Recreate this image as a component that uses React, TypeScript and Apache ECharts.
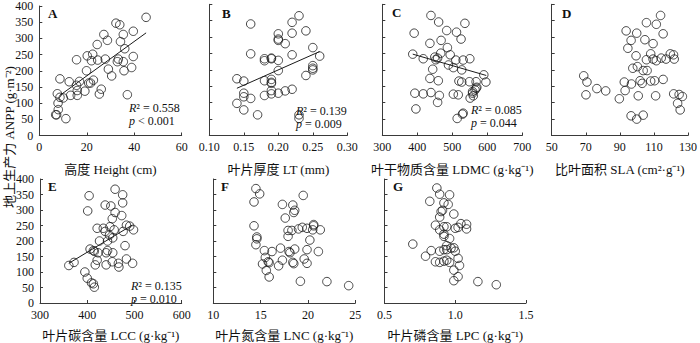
import React, { useEffect, useRef } from "react";
import * as echarts from "echarts";

// ---------- data ----------
const heightX = [45, 32.3, 33.9, 39.6, 27.2, 35.4, 28.7, 24.4, 34.2, 36, 39.6, 20.2, 22.5, 15.7, 22, 24.6, 27.8, 33.3, 32.9, 35.4, 29.1, 35.7, 38.9, 19.9, 8.7, 12.6, 16.9, 22.8, 20.8, 21.6, 30.5, 15.7, 7.6, 8.7, 10.1, 13.2, 16, 16, 19.2, 26.1, 25.3, 37.1, 7.9, 8, 6.9, 7.3, 11.2];
const heightY = [365, 347, 342, 322, 312, 312, 294, 281, 290, 268, 244, 246, 251, 234, 231, 233, 236, 236, 228, 228, 205, 200, 210, 200, 175, 166, 167, 171, 162, 162, 184, 155, 129, 118, 116, 124, 124, 139, 137, 143, 128, 126, 100, 80, 64, 64, 52];
const heightFit = [[8.7, 124], [45, 317]];

const ltX = [0.23, 0.22, 0.16, 0.24, 0.2, 0.22, 0.2, 0.2, 0.21, 0.25, 0.16, 0.18, 0.18, 0.19, 0.19, 0.2, 0.22, 0.26, 0.25, 0.25, 0.25, 0.2, 0.24, 0.14, 0.15, 0.18, 0.19, 0.19, 0.19, 0.22, 0.21, 0.2, 0.19, 0.19, 0.18, 0.15, 0.15, 0.16, 0.14, 0.15, 0.17, 0.23, 0.23];
const ltY = [365, 345, 340, 319, 310, 312, 294, 290, 280, 268, 249, 234, 228, 236, 234, 229, 246, 242, 213, 205, 200, 198, 183, 173, 166, 167, 171, 162, 159, 141, 136, 129, 137, 127, 122, 129, 118, 113, 98, 78, 63, 63, 52];
const ltFit = [[0.14, 144], [0.26, 256]];

const ldmcX = [439, 461, 536, 391, 484, 512, 525, 436, 468, 486, 467, 494, 387, 417, 450, 458, 453, 510, 531, 550, 489, 503, 444, 527, 590, 596, 519, 527, 549, 568, 436, 460, 568, 565, 558, 558, 570, 551, 560, 393, 417, 439, 463, 503, 517, 458, 396, 529, 531, 514];
const ldmcY = [366, 346, 342, 312, 320, 315, 294, 281, 290, 268, 251, 246, 248, 234, 239, 236, 231, 230, 230, 234, 215, 207, 202, 200, 185, 163, 166, 163, 164, 164, 174, 167, 144, 139, 134, 129, 147, 114, 121, 129, 127, 131, 122, 126, 124, 101, 81, 65, 68, 52];
const ldmcFit = [[387, 248], [597, 183]];

const slaX = [113.9, 105.6, 111.4, 93.7, 99.9, 115.4, 96.6, 104.7, 109.5, 94.7, 99.5, 108.1, 105.6, 109.5, 111.4, 114.3, 117.1, 119.6, 121.5, 121.9, 97.6, 100.3, 103.7, 106, 68.8, 70.7, 76.5, 81.7, 70.1, 92.6, 93.1, 96.8, 101.9, 103.1, 108.1, 110.4, 115.4, 89.7, 100.8, 111, 121.6, 124.8, 126.7, 123.9, 125.4, 96.6, 103.7, 99.9];
const slaY = [366, 344, 339, 319, 312, 310, 290, 292, 280, 266, 243, 249, 231, 233, 228, 236, 233, 249, 246, 233, 205, 210, 198, 198, 182, 163, 143, 136, 124, 163, 137, 157, 167, 159, 166, 167, 171, 112, 121, 121, 127, 125, 119, 98, 78, 60, 62, 50];

const lccX = [459, 475, 404, 475, 438, 450, 401, 459, 473, 453, 483, 490, 498, 448, 421, 434, 457, 476, 438, 447, 454, 443, 426, 480, 406, 413, 415, 443, 423, 440, 454, 361, 372, 421, 417, 440, 453, 466, 467, 483, 496, 395, 400, 409, 413, 415];
const lccY = [367, 349, 346, 323, 316, 313, 297, 292, 282, 272, 251, 248, 236, 246, 241, 241, 236, 231, 231, 219, 210, 200, 200, 185, 174, 169, 167, 169, 162, 162, 162, 121, 131, 138, 123, 123, 133, 128, 116, 142, 128, 100, 80, 65, 62, 51];
const lccFit = [[361, 128], [496, 252]];

const lncX = [14.5, 14.9, 14.3, 19.5, 17.3, 18.4, 18.6, 18.5, 17.6, 14.3, 14.6, 14.6, 14.5, 17.9, 18.3, 19, 19.4, 19.9, 20.5, 20.6, 20.6, 21.3, 17.9, 20.2, 17.1, 18.6, 19.9, 18, 18.1, 21.1, 15.4, 16.2, 15.5, 15.8, 15.9, 15.2, 16.9, 17.3, 18.4, 18.5, 19.6, 19.9, 15.6, 15.9, 19.2, 22, 24.3];
const lncY = [369, 352, 326, 347, 318, 316, 299, 292, 274, 249, 213, 207, 188, 234, 234, 239, 244, 241, 236, 253, 249, 236, 215, 203, 177, 174, 172, 166, 162, 166, 169, 166, 147, 133, 130, 126, 120, 138, 131, 127, 142, 128, 105, 84, 70, 69, 56];

const lpcX = [0.87, 0.89, 0.96, 0.82, 0.92, 0.95, 0.91, 0.9, 0.99, 0.89, 1.04, 1.08, 0.86, 0.92, 0.94, 1.0, 1.02, 1.08, 0.89, 0.92, 0.92, 0.96, 0.7, 0.94, 0.97, 0.99, 0.94, 0.89, 0.92, 0.83, 1.0, 0.79, 1.02, 0.86, 0.89, 0.92, 0.94, 0.96, 1.03, 0.99, 1.02, 0.99, 1.16, 1.29];
const lpcY = [371, 351, 349, 328, 323, 318, 299, 295, 287, 277, 256, 254, 251, 246, 246, 241, 244, 239, 236, 222, 215, 208, 190, 185, 177, 178, 172, 167, 172, 169, 167, 151, 144, 133, 131, 135, 138, 131, 121, 106, 85, 72, 69, 59];

const yTitle = "地上生产力 ANPP (g·m⁻²)";

// ---------- layout / styling ----------
const FONT = "'Liberation Serif', 'Times New Roman', 'Noto Sans CJK SC', serif";
const TOP_T = 4.3, TOP_H = 131.2;
const BOT_T = 179, BOT_H = 130;

type Panel = {
  letter: string; xs: number[]; ys: number[]; fit?: number[][];
  left: number; width: number; top: number; height: number;
  xmin: number; xmax: number; xint: number; dec: number; name: string; showY: boolean;
  stats?: { r: string; p: string; x: number; y: number; lh: number };
  letterPos: [number, number];
};

const panels: Panel[] = [
  { letter: "A", xs: heightX, ys: heightY, fit: heightFit, left: 39.3, width: 142.4, top: TOP_T, height: TOP_H, xmin: 0, xmax: 60, xint: 20, dec: 0, name: "高度 Height (cm)", showY: true, stats: { r: "0.558", p: "< 0.001", x: 129, y: 114.5, lh: 12.5 }, letterPos: [48, 13.5] },
  { letter: "B", xs: ltX, ys: ltY, fit: ltFit, left: 209.3, width: 138, top: TOP_T, height: TOP_H, xmin: 0.1, xmax: 0.3, xint: 0.05, dec: 2, name: "叶片厚度 LT (mm)", showY: false, stats: { r: "0.139", p: "= 0.009", x: 296, y: 117.5, lh: 12.8 }, letterPos: [222, 13.5] },
  { letter: "C", xs: ldmcX, ys: ldmcY, fit: ldmcFit, left: 382.3, width: 140, top: TOP_T, height: TOP_H, xmin: 300, xmax: 700, xint: 100, dec: 0, name: "叶干物质含量 LDMC (g·kg⁻¹)", showY: false, stats: { r: "0.085", p: "= 0.044", x: 471, y: 116.5, lh: 12.8 }, letterPos: [392, 12.5] },
  { letter: "D", xs: slaX, ys: slaY, left: 551.7, width: 139, top: TOP_T, height: TOP_H, xmin: 50, xmax: 130, xint: 20, dec: 0, name: "比叶面积 SLA (cm²·g⁻¹)", showY: false, letterPos: [562, 13.5] },
  { letter: "E", xs: lccX, ys: lccY, fit: lccFit, left: 40, width: 141.7, top: BOT_T, height: BOT_H, xmin: 300, xmax: 600, xint: 100, dec: 0, name: "叶片碳含量 LCC (g·kg⁻¹)", showY: true, stats: { r: "0.135", p: "= 0.010", x: 131, y: 292.5, lh: 12.5 }, letterPos: [48, 186] },
  { letter: "F", xs: lncX, ys: lncY, left: 213.3, width: 142, top: BOT_T, height: BOT_H, xmin: 10, xmax: 25, xint: 5, dec: 0, name: "叶片氮含量 LNC (g·kg⁻¹)", showY: false, letterPos: [221, 186] },
  { letter: "G", xs: lpcX, ys: lpcY, left: 384.5, width: 141.5, top: BOT_T, height: BOT_H, xmin: 0.5, xmax: 1.5, xint: 0.5, dec: 1, name: "叶片磷含量 LPC (g·kg⁻¹)", showY: false, letterPos: [393, 186] },
];

const AXIS_COLOR = "#3a3a3a";
const TEXT_COLOR = "#111";

function buildOption() {
  const grid: any[] = [];
  const xAxis: any[] = [];
  const yAxis: any[] = [];
  const series: any[] = [];
  const graphic: any[] = [];

  panels.forEach((p, i) => {
    const isTop = p.top === TOP_T;
    grid.push({ left: p.left, top: p.top, width: p.width, height: p.height, containLabel: false });
    xAxis.push({
      type: "value", gridIndex: i, min: p.xmin, max: p.xmax, interval: p.xint,
      axisLine: { show: true, lineStyle: { color: AXIS_COLOR, width: 1 } },
      axisTick: { show: true, inside: true, length: 3, lineStyle: { color: AXIS_COLOR } },
      axisLabel: { fontSize: 12, lineHeight: 12, fontFamily: FONT, color: TEXT_COLOR, margin: isTop ? 5 : 6, formatter: (v: number) => v.toFixed(p.dec) },
      splitLine: { show: false },
      name: p.name, nameLocation: "middle", nameGap: isTop ? 27 : 26,
      nameTextStyle: { fontSize: 13, fontFamily: FONT, color: TEXT_COLOR },
    });
    yAxis.push({
      type: "value", gridIndex: i, min: 0, max: 400, interval: 50,
      axisLine: { show: true, lineStyle: { color: AXIS_COLOR, width: 1 } },
      axisTick: { show: true, inside: true, length: 3, lineStyle: { color: AXIS_COLOR } },
      axisLabel: { show: p.showY, fontSize: 12, lineHeight: 11, fontFamily: FONT, color: TEXT_COLOR, margin: 6 },
      splitLine: { show: false },
    });
    series.push({
      type: "scatter", xAxisIndex: i, yAxisIndex: i,
      data: p.xs.map((x, k) => [x, p.ys[k]]),
      symbol: "circle", symbolSize: 8.5,
      itemStyle: { color: "rgba(255,255,255,0)", borderColor: "#1a1a1a", borderWidth: 1 },
      silent: true,
    });
    if (p.fit) {
      series.push({
        type: "line", xAxisIndex: i, yAxisIndex: i, data: p.fit,
        showSymbol: false, symbol: "none", silent: true,
        lineStyle: { color: "#1a1a1a", width: 1 },
      });
    }
    graphic.push({
      type: "text", x: p.letterPos[0], y: p.letterPos[1],
      style: { text: p.letter, fontSize: 13, fontWeight: "bold", fontFamily: FONT, fill: TEXT_COLOR, align: "left", verticalAlign: "middle" },
    });
    if (p.stats) {
      const s = p.stats;
      graphic.push({
        type: "text", x: s.x, y: s.y,
        style: {
          text: "{i|R}{n|² = " + s.r + "}\n{i|p}{n| " + s.p + "}",
          fontSize: 12, fontFamily: FONT, fill: TEXT_COLOR, align: "left", verticalAlign: "middle",
          lineHeight: s.lh,
          rich: {
            i: { fontStyle: "italic", fontSize: 12, fontFamily: FONT, fill: TEXT_COLOR, lineHeight: s.lh },
            n: { fontSize: 12, fontFamily: FONT, fill: TEXT_COLOR, lineHeight: s.lh },
          },
        },
      });
    }
  });

  graphic.push({
    type: "text", x: 9, y: 137, rotation: Math.PI / 2,
    style: { text: yTitle, fontSize: 13, fontFamily: FONT, fill: TEXT_COLOR, align: "center", verticalAlign: "middle" },
  });

  return { animation: false, backgroundColor: "#fff", grid, xAxis, yAxis, series, graphic };
}

export default function App() {
  const ref = useRef<HTMLDivElement>(null);
  useEffect(() => {
    if (!ref.current) return;
    const chart = echarts.init(ref.current, undefined, { renderer: "svg" });
    chart.setOption(buildOption() as any);
    return () => chart.dispose();
  }, []);
  return <div ref={ref} style={{ position: "absolute", left: 0, top: 0, width: 700, height: 343 }} />;
}
